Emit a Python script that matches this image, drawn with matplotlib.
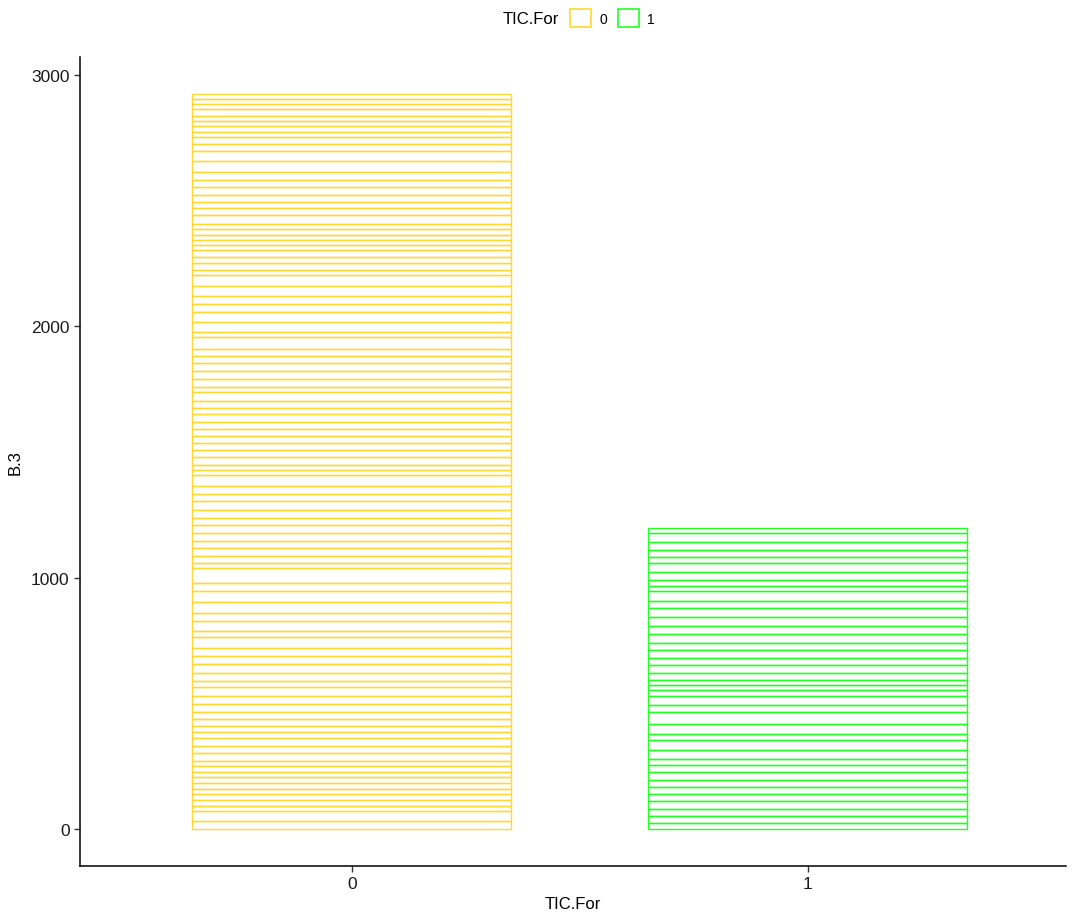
import matplotlib
matplotlib.use("Agg")
import matplotlib.pyplot as plt
from matplotlib.patches import Patch
import numpy as np

plt.rcParams['font.family'] = ['Liberation Sans', 'DejaVu Sans']

# Categories of TIC.For and the individual B.3 observations stacked in each bar
categories = ["0", "1"]
b3_for0 = [33, 40, 20, 24, 23, 20, 23, 26, 20, 21, 22, 31, 29, 29, 26, 24, 27, 29,
           31, 33, 33, 26, 33, 33, 31, 33, 43, 26, 40, 29, 44, 46, 31, 60, 20, 27,
           32, 30, 31, 29, 29, 34, 33, 29, 33, 44, 20, 20, 32, 27, 27, 28, 29, 27,
           33, 24, 25, 35, 23, 30, 32, 31, 29, 28, 49, 20, 40, 40, 29, 31, 42, 43,
           21, 27, 24, 27, 22, 20, 20, 24, 19, 33, 28, 27, 27, 32, 28, 29, 44, 43,
           26, 27, 20, 24, 20, 20, 27, 22, 20, 20]
b3_for1 = [24, 27, 29, 31, 30, 27, 27, 33, 29, 23, 35, 40, 25, 37, 49, 30, 33, 26,
           18, 22, 27, 33, 27, 29, 31, 33, 33, 36, 34, 29, 40, 20, 26, 31, 33, 25,
           30, 29, 37, 20]
series = [b3_for0, b3_for1]
colors = ["#FFD92F", "#22FF22"]

fig = plt.figure(figsize=(10.73, 9.2), dpi=100)
W, H = 1073, 920
ax = fig.add_axes([80 / W, 1 - 867 / H, (1066 - 80) / W, (867 - 58) / H])

bar_width = 0.7
for i, (vals, col) in enumerate(zip(series, colors)):
    vals = np.asarray(vals, dtype=float)
    bottoms = np.concatenate([[0], np.cumsum(vals)[:-1]])
    ax.bar(np.full(len(vals), i), vals, bottom=bottoms, width=bar_width,
           facecolor="none", edgecolor=col, linewidth=1.0)

top = max(sum(s) for s in series)
ax.set_xlim(-0.596, 1.566)
ax.set_ylim(-0.05 * top, 1.05 * top)
ax.set_xticks(range(len(categories)))
ax.set_xticklabels(categories)
ax.set_yticks([0, 1000, 2000, 3000])

for side in ["top", "right"]:
    ax.spines[side].set_visible(False)
for side in ["left", "bottom"]:
    ax.spines[side].set_color("black")
    ax.spines[side].set_linewidth(1.1)
ax.tick_params(axis="both", colors="#333333", length=4, width=1.0,
               labelsize=12.5, labelcolor="#1a1a1a")

ax.set_xlabel("TIC.For", fontsize=12, color="black", labelpad=3)
ax.set_ylabel("B.3", fontsize=12, color="black", labelpad=6)

# Legend along the top
fig.text(531 / W, 1 - 19 / H, "TIC.For", fontsize=12, ha="center", va="center")
handles = [Patch(facecolor="white", edgecolor=c, linewidth=1.2, label=lab)
           for c, lab in zip(colors, categories)]
fig.legend(handles=handles, loc="center left", bbox_to_anchor=(570 / W, 1 - 19 / H),
           ncol=2, frameon=False, fontsize=10, handlelength=1.5, handleheight=1.7,
           handletextpad=0.6, columnspacing=0.8, borderpad=0, borderaxespad=0)

fig.savefig("out.png", dpi=100, facecolor="white")
